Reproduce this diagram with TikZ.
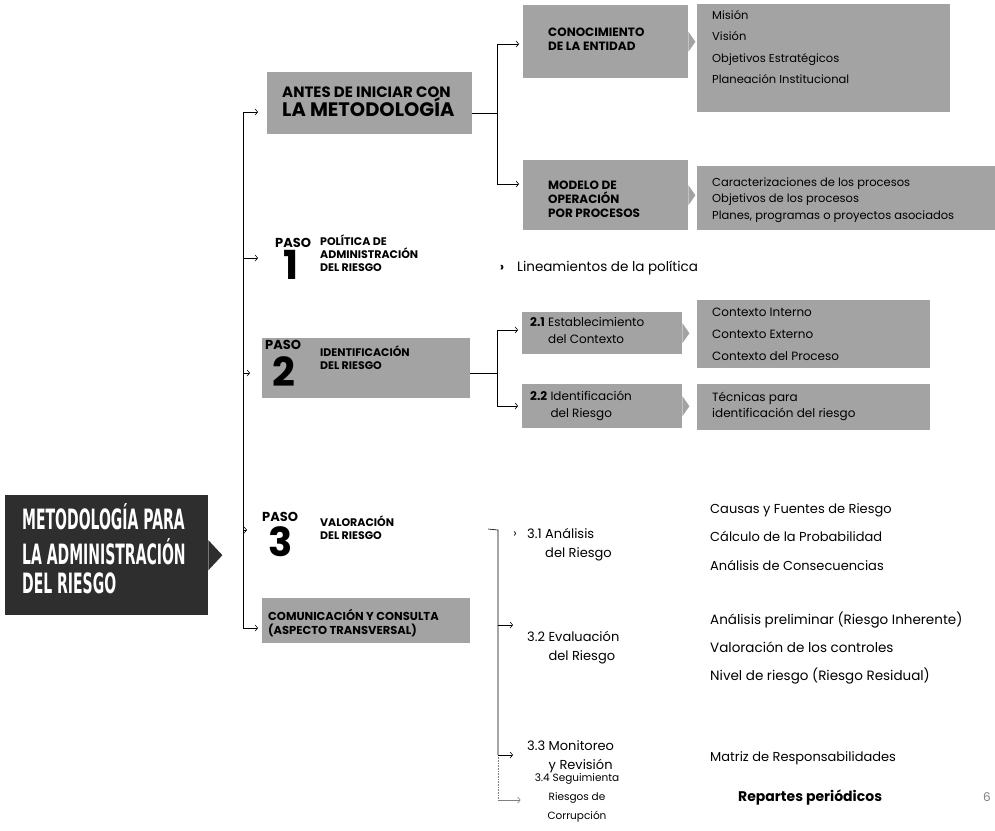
\documentclass[tikz,border=0pt]{standalone}
\usepackage{fontspec}
\setmainfont{Poppins}
\newfontfamily\titlefont{DejaVu Sans}
\usetikzlibrary{arrows.meta}
\definecolor{boxgray}{gray}{0.64}
\definecolor{darkbox}{gray}{0.18}
\newcommand\myfs[2]{\fontsize{#1}{#2}\selectfont}
\begin{document}
\begin{tikzpicture}[x=1pt,y=-1pt,
  ln/.style={line width=0.6pt},
  arr/.style={line width=0.6pt,-{Straight Barb[length=2.5pt,width=6pt]}},
  gbox/.style={fill=boxgray,inner sep=0pt,anchor=north west},
  txt/.style={inner sep=0pt,anchor=west,align=left},
  hdr/.style={txt,font=\bfseries\myfs{11}{13}},
  big/.style={inner sep=0pt,font=\bfseries\myfs{40}{40}},
  pasolbl/.style={inner sep=0pt,anchor=west,font=\bfseries\myfs{13}{13}}
]
\useasboundingbox (0,0) rectangle (995,830);

% ---------- title box ----------
\node[fill=darkbox,inner sep=0pt,anchor=north west,minimum width=203pt,minimum height=120pt] (title) at (5,495) {};
\fill[darkbox] ([yshift=15pt]title.east) -- ++(14,15) -- ++(-14,15) -- cycle;
\node[txt,text=white] (titleT) at (22,553) {\scalebox{0.5}[1]{\titlefont\bfseries\myfs{28}{28.5}\begin{tabular}{@{}l@{}}METODOLOGÍA PARA\\LA ADMINISTRACIÓN\\DEL RIESGO\end{tabular}}};

% ---------- main trunk ----------
\coordinate (t0) at (243,112);
\coordinate (tP1) at (243,258);
\coordinate (tP2) at (243,373);
\coordinate (tP3) at (243,530);
\coordinate (t1) at (243,628);
\draw[ln] (t0) -- (t1);

% ---------- antes ----------
\node[gbox,minimum width=205pt,minimum height=62pt] (antes) at (267,72) {};
\node[txt,font=\bfseries] (antesT) at (282,102) {{\myfs{15}{17}ANTES DE INICIAR CON}\\[-1pt]{\myfs{19.5}{21}LA METODOLOGÍA}};
\draw[arr,shorten >=9pt] (t0) -- (antes.west |- t0);

\coordinate (j1) at (497,113);
\coordinate (j1a) at (497,44);
\coordinate (j1b) at (497,184);
\draw[ln] (antes.east |- j1) -- (j1);
\draw[ln] (j1a) -- (j1b);

\node[gbox,minimum width=165pt,minimum height=73pt] (conoc) at (523,5) {};
\fill[boxgray] ([yshift=10pt]conoc.east) -- ++(7,10) -- ++(-7,10) -- cycle;
\node[hdr,font=\bfseries\myfs{12}{13.5}] (conocT) at (548,39) {CONOCIMIENTO\\DE LA ENTIDAD};
\draw[arr,shorten >=4pt] (j1a) -- (conoc.west |- j1a);

\node[gbox,minimum width=253pt,minimum height=108pt] (mision) at (697,4) {};
\node[txt,font=\myfs{11.5}{21.5},anchor=north west] (misionT) at (712,10) {Misión\\Visión\\Objetivos Estratégicos\\Planeación Institucional};

\node[gbox,minimum width=165pt,minimum height=70pt] (modelo) at (523,160) {};
\fill[boxgray] ([yshift=10pt]modelo.east) -- ++(7,10) -- ++(-7,10) -- cycle;
\node[hdr,font=\bfseries\myfs{12}{14}] (modeloT) at (548,199) {MODELO DE\\OPERACIÓN\\POR PROCESOS};
\draw[arr,shorten >=4pt] (j1b) -- (modelo.west |- j1b);

\node[gbox,minimum width=298pt,minimum height=64pt] (caract) at (697,166) {};
\node[txt,font=\myfs{11.5}{16.5}] (caractT) at (712,200) {Caracterizaciones de los procesos\\Objetivos de los procesos\\Planes, programas o proyectos asociados};

% ---------- paso 1 ----------
\node[pasolbl] (paso1) at (275,243) {PASO};
\node[big] (num1) at (291,265) {1};
\node[hdr] (pol) at (320,253) {POLÍTICA DE\\ADMINISTRACIÓN\\DEL RIESGO};
\draw[arr,shorten >=17pt] (tP1) -- (paso1.west |- tP1);
\node[inner sep=0pt,font=\bfseries\myfs{13}{13}] (lin1a) at (502,268) {›};
\node[txt,font=\myfs{13.5}{15}] (lin1) at (517,268) {Lineamientos de la política};

% ---------- paso 2 ----------
\node[gbox,minimum width=208pt,minimum height=60pt] (paso2) at (262,338) {};
\node[pasolbl] (paso2A) at (265,345) {PASO};
\node[big] (num2) at (284,372) {2};
\node[hdr] (idT) at (320,358) {IDENTIFICACIÓN\\DEL RIESGO};
\draw[arr,shorten >=12pt] (tP2) -- (paso2.west |- tP2);

\coordinate (j2) at (497,373);
\coordinate (j2a) at (497,330);
\coordinate (j2b) at (497,406);
\draw[ln] (paso2.east |- j2) -- (j2);
\draw[ln] (j2a) -- (j2b);

\node[gbox,minimum width=160pt,minimum height=42pt] (e21) at (522,312) {};
\fill[boxgray] ([yshift=10pt]e21.east) -- ++(7,10) -- ++(-7,10) -- cycle;
\node[txt,font=\myfs{12}{17}] (e21T) at (530,332) {\begin{tabular}{@{}l@{\ }l@{}}\textbf{2.1} & Establecimiento\\ & del Contexto\end{tabular}};
\draw[arr,shorten >=4pt] (j2a) -- (e21.west |- j2a);

\node[gbox,minimum width=233pt,minimum height=68pt] (ctx) at (697,300) {};
\node[txt,font=\myfs{12}{22}] (ctxT) at (712,334) {Contexto Interno\\Contexto Externo\\Contexto del Proceso};

\node[gbox,minimum width=160pt,minimum height=44pt] (e22) at (522,384) {};
\fill[boxgray] ([yshift=10pt]e22.east) -- ++(7,10) -- ++(-7,10) -- cycle;
\node[txt,font=\myfs{12}{17}] (e22T) at (530,406) {\begin{tabular}{@{}l@{\ }l@{}}\textbf{2.2} & Identificación\\ & del Riesgo\end{tabular}};
\draw[arr,shorten >=4pt] (j2b) -- (e22.west |- j2b);

\node[gbox,minimum width=233pt,minimum height=46pt] (tec) at (697,384) {};
\node[txt,font=\myfs{12}{16}] (tecT) at (712,406) {Técnicas para\\identificación del riesgo};

% ---------- paso 3 ----------
\node[pasolbl] (paso3) at (262,517) {PASO};
\node[big] (num3) at (281,542) {3};
\node[hdr] (valT) at (320,528) {VALORACIÓN\\DEL RIESGO};
\draw[arr,shorten >=15pt] (tP3) -- (paso3.west |- tP3);

% ---------- comunicacion ----------
\node[gbox,minimum width=208pt,minimum height=45pt] (comun) at (262,598) {};
\node[hdr,font=\bfseries\myfs{11.5}{13.5}] (comunT) at (268,623) {COMUNICACIÓN Y CONSULTA\\(ASPECTO TRANSVERSAL)};
\draw[arr,shorten >=4pt] (t1) -- (comun.west |- t1);

% ---------- second trunk ----------
\coordinate (s0l) at (488,529);
\coordinate (s0) at (498,530);
\coordinate (s2) at (498,625);
\coordinate (s3) at (498,755);
\coordinate (s4) at (498,800);
\draw[ln] (s0l) -- (s0) -- (s3);
\draw[ln,gray,densely dotted] (s3) -- (s4);
\node[inner sep=0pt,font=\myfs{12}{12}] (a31) at (515,535) {›};

\node[txt,font=\myfs{13}{19}] (n31) at (527,544) {\begin{tabular}{@{}l@{\ }l@{}}3.1 & Análisis\\ & del Riesgo\end{tabular}};
\node[txt,font=\myfs{13}{19}] (n32) at (527,647) {\begin{tabular}{@{}l@{\ }l@{}}3.2 & Evaluación\\ & del Riesgo\end{tabular}};
\node[txt,font=\myfs{13}{19}] (n33) at (527,756) {\begin{tabular}{@{}l@{\ }l@{}}3.3 & Monitoreo\\ & y Revisión\end{tabular}};
\node[inner sep=0pt,align=center,font=\myfs{10.5}{19}] (n34) at (577,798) {3.4 Seguimienta\\Riesgos de\\Corrupción};
\draw[arr,shorten >=14pt] (s2) -- (n32.west |- s2);
\draw[arr,shorten >=14pt] (s3) -- (n33.west |- s3);
\draw[arr,gray,shorten >=14pt] (s4) -- (n34.west |- s4);

\node[txt,font=\myfs{13}{28.5}] (r1) at (710,537) {Causas y Fuentes de Riesgo\\Cálculo de la Probabilidad\\Análisis de Consecuencias};
\node[txt,font=\myfs{13.5}{28}] (r2) at (710,648) {Análisis preliminar (Riesgo Inherente)\\Valoración de los controles\\Nivel de riesgo (Riesgo Residual)};
\node[txt,font=\myfs{13}{15}] (r3) at (710,758) {Matriz de Responsabilidades};
\node[txt,font=\bfseries\myfs{14}{15}] (r4) at (738,798) {Repartes periódicos};
\node[txt,text=gray,font=\myfs{12}{13}] (pg) at (983,797) {6};
\end{tikzpicture}
\end{document}
